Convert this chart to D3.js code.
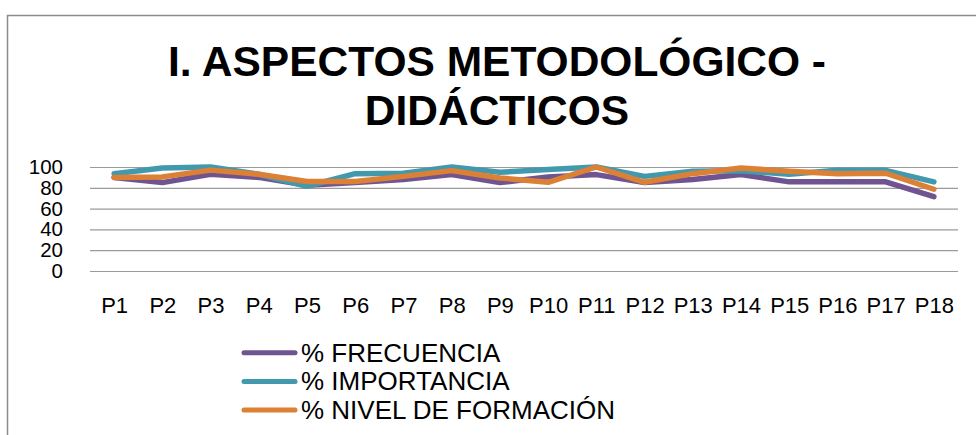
<!DOCTYPE html>
<html>
<head>
<meta charset="utf-8">
<script src="https://cdn.jsdelivr.net/npm/d3@7"></script>
<style>
  body { margin: 0; background: #fff; }
  svg { display: block; }
</style>
</head>
<body>
<div id="chart"></div>
<script>
const categories = ["P1", "P2", "P3", "P4", "P5", "P6", "P7", "P8", "P9",
  "P10", "P11", "P12", "P13", "P14", "P15", "P16", "P17", "P18"];
const frecuencia = [90, 85, 93, 90, 82.5, 85, 88, 92.7, 85, 90.5, 92.7, 85, 88, 92.7, 85.7, 85.7, 85.7, 71.4];
const importancia = [93.6, 99, 100, 93, 81.5, 93.6, 94, 100, 95, 97.5, 100, 91, 96, 96.5, 93, 96.8, 96.8, 85.7];
const nivelFormacion = [90, 90.5, 97, 93, 86, 86, 91, 96.5, 89.5, 85.3, 100, 85.3, 93.6, 99, 95.8, 93.6, 94, 78.6];
const yTicks = [0, 20, 40, 60, 80, 100];
const titleLines = ["I. ASPECTOS METODOLÓGICO -", "DIDÁCTICOS"];

const series = [
  {name: "% FRECUENCIA", values: frecuencia, color: "#6f5491"},
  {name: "% IMPORTANCIA", values: importancia, color: "#4299ae"},
  {name: "% NIVEL DE FORMACIÓN", values: nivelFormacion, color: "#dc8035"}
];

const width = 976, height = 435;
const plot = {left: 90, right: 958, top: 167, bottom: 271};

const svg = d3.select("#chart").append("svg")
    .attr("width", width)
    .attr("height", height);

// chart frame (runs off the right and bottom edge like the source)
svg.append("rect")
    .attr("x", 7.5).attr("y", 15.5)
    .attr("width", 1000).attr("height", 500)
    .attr("fill", "none")
    .attr("stroke", "#8c8c8c")
    .attr("stroke-width", 1.5);

svg.append("g")
    .selectAll("text")
    .data(titleLines)
    .join("text")
    .attr("x", 497)
    .attr("y", (d, i) => 76 + i * 49)
    .attr("text-anchor", "middle")
    .attr("font-family", "Liberation Sans, Arial, sans-serif")
    .attr("font-weight", "bold")
    .attr("font-size", 42.5)
    .attr("fill", "#000")
    .text(d => d);

const x = d3.scalePoint()
    .domain(categories)
    .range([plot.left, plot.right])
    .padding(0.5);

const y = d3.scaleLinear()
    .domain([0, 100])
    .range([plot.bottom, plot.top]);

// gridlines + y labels
const yAxis = svg.append("g")
    .attr("transform", "translate(" + plot.left + ",0)")
    .call(d3.axisLeft(y).tickValues(yTicks).tickSize(-(plot.right - plot.left)).tickPadding(27));
yAxis.select(".domain").remove();
yAxis.selectAll(".tick line")
    .attr("stroke", "#9a9a9a")
    .attr("stroke-width", 1.2);
yAxis.selectAll(".tick text")
    .attr("font-family", "Liberation Sans, Arial, sans-serif")
    .attr("font-size", 20.5)
    .attr("fill", "#000");

// x labels
const xAxis = svg.append("g")
    .attr("transform", "translate(0," + plot.bottom + ")")
    .call(d3.axisBottom(x).tickSize(0).tickPadding(26));
xAxis.select(".domain").remove();
xAxis.selectAll(".tick text")
    .attr("font-family", "Liberation Sans, Arial, sans-serif")
    .attr("font-size", 22)
    .attr("fill", "#000");

const line = d3.line()
    .x((d, i) => x(categories[i]))
    .y(d => y(d));

svg.append("g")
    .selectAll("path")
    .data(series)
    .join("path")
    .attr("d", d => line(d.values))
    .attr("fill", "none")
    .attr("stroke", d => d.color)
    .attr("stroke-width", 5.5)
    .attr("stroke-linejoin", "round")
    .attr("stroke-linecap", "round");

// legend
const legend = svg.append("g")
    .selectAll("g")
    .data(series)
    .join("g")
    .attr("transform", (d, i) => "translate(0," + (352.7 + i * 28.7) + ")");

legend.append("line")
    .attr("x1", 244).attr("x2", 295)
    .attr("stroke", d => d.color)
    .attr("stroke-width", 5)
    .attr("stroke-linecap", "round");

legend.append("text")
    .attr("x", 301)
    .attr("y", 8.8)
    .attr("font-family", "Liberation Sans, Arial, sans-serif")
    .attr("font-size", 26)
    .attr("fill", "#000")
    .text(d => d.name);
</script>
</body>
</html>
